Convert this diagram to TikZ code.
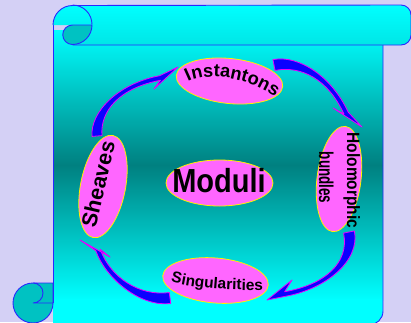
\documentclass[tikz,border=0pt]{standalone}
\usepackage{fontspec}
\setmainfont{Liberation Sans}
\usetikzlibrary{calc,shapes.geometric,decorations.text}
\definecolor{bgl}{RGB}{212,208,245}
\definecolor{scrollcyan}{RGB}{0,255,255}
\definecolor{scrolldark}{RGB}{0,128,128}
\definecolor{curlteal}{RGB}{0,194,194}
\definecolor{barbot}{RGB}{0,230,230}
\definecolor{edgeblue}{RGB}{40,40,255}
\definecolor{pinkfill}{RGB}{255,102,255}
\definecolor{arrowblue}{RGB}{10,0,255}
\definecolor{arrowedge}{RGB}{235,0,255}
\newcommand\bentarrow[8]{%
  \path[arrowsty] ($(#1)!#7!90:(#2)$) .. controls ($(#2)!#7!-90:(#1)$) and ($(#3)!#8!90:(#4)$) .. ($(#4)!#8!-90:(#3)$)
    -- (#5) -- (#6) -- ($(#4)!#8!90:(#3)$) .. controls ($(#3)!#8!-90:(#4)$) and ($(#2)!#7!90:(#1)$) .. ($(#1)!#7!-90:(#2)$) -- cycle;}
\begin{document}
\begin{tikzpicture}[x=1pt,y=-1pt,
  edge/.style={draw=edgeblue,line width=0.9pt},
  ell/.style={ellipse,draw=yellow,line width=0.8pt,fill=pinkfill,inner sep=0pt},
  arrowsty/.style={fill=arrowblue,draw=arrowedge,line width=0.8pt,line join=round},
  lbl/.style={text=black,inner sep=0pt}]
\useasboundingbox[fill=bgl] (0,0) rectangle (411,322);
% scroll body
\begin{scope}
  \clip (53,25) -- (383,25) -- (383,311) arc[start angle=0,end angle=90,radius=14] -- (53,325) -- cycle;
  \shade[top color=scrollcyan,bottom color=scrollcyan,middle color=scrolldark] (53,30) rectangle (383,300);
  \fill[scrollcyan] (53,299) rectangle (383,326);
\end{scope}
\draw[edge] (53,25) -- (53,303);
\draw[edge] (383,45) -- (383,311) arc[start angle=0,end angle=90,radius=14] -- (360,325);
% top bar
\shade[top color=scrollcyan,bottom color=barbot] (53,25) arc[start angle=180,end angle=270,radius=19.5]
  -- (401,5) arc[start angle=270,end angle=360,radius=10] -- (411,35) arc[start angle=0,end angle=90,radius=10]
  -- (72.5,45) -- (72.5,25) -- cycle;
\draw[edge] (53,25) arc[start angle=180,end angle=270,radius=19.5]
  -- (401,5) arc[start angle=270,end angle=360,radius=10] -- (411,35) arc[start angle=0,end angle=90,radius=10]
  -- (72.5,45);
\draw[edge] (72.5,5) arc[start angle=270,end angle=360,radius=19.5];
\filldraw[edge,fill=curlteal] (72.5,25) -- (92,25) arc[start angle=0,end angle=90,radius=19.5]
  arc[start angle=90,end angle=270,radius=9.75] -- cycle;
% bottom-left curl
\filldraw[edge,fill=curlteal] (33,303) circle[radius=20];
\fill[curlteal] (33,283) rectangle (53,303);
\draw[edge] (33,283) -- (53,283) -- (53,303) -- (33,303) arc[start angle=90,end angle=-90,radius=10];
% arrows
\coordinate (a1p0) at (97,136); \coordinate (a1p1) at (95,112); \coordinate (a1p2) at (118,86); \coordinate (a1p3) at (160,78);
\coordinate (a1tip) at (178,67); \coordinate (a1barb) at (154,89);
\coordinate (a2p0) at (274,65); \coordinate (a2p1) at (300,60); \coordinate (a2p2) at (330,78); \coordinate (a2p3) at (346,113);
\coordinate (a2tip) at (362,127); \coordinate (a2barb) at (333,108);
\coordinate (a3p0) at (349,232); \coordinate (a3p1) at (355,262); \coordinate (a3p2) at (325,287); \coordinate (a3p3) at (285,294);
\coordinate (a3tip) at (267,300); \coordinate (a3barb) at (292,280);
\coordinate (a4p0) at (170,298); \coordinate (a4p1) at (140,302); \coordinate (a4p2) at (108,278); \coordinate (a4p3) at (98,250);
\coordinate (a4tip) at (80,240); \coordinate (a4barb) at (110,257);
\bentarrow{a1p0}{a1p1}{a1p2}{a1p3}{a1tip}{a1barb}{5pt}{2.3pt}
\bentarrow{a2p0}{a2p1}{a2p2}{a2p3}{a2tip}{a2barb}{5.5pt}{2.3pt}
\bentarrow{a3p0}{a3p1}{a3p2}{a3p3}{a3tip}{a3barb}{5.5pt}{2.3pt}
\bentarrow{a4p0}{a4p1}{a4p2}{a4p3}{a4tip}{a4barb}{5.5pt}{2.3pt}
% ellipses
\node[ell,minimum width=107pt,minimum height=45pt,rotate=-6] (inst) at (229.5,81) {};
\node[ell,minimum width=44pt,minimum height=106pt,rotate=-7] (holo) at (339,179) {};
\node[ell,minimum width=45pt,minimum height=104pt,rotate=-11] (sheav) at (103,186.5) {};
\node[ell,minimum width=106pt,minimum height=45pt,rotate=-5] (sing) at (215.5,280.5) {};
\node[ell,minimum width=107pt,minimum height=46pt] (mod) at (219.5,183) {};
% labels
\node[lbl,font=\fontsize{29}{32}\bfseries] (modt) at (219,181) {\scalebox{1}[1.15]{Moduli}};
\node[lbl,font=\fontsize{21.5}{24}\bfseries,rotate=77] (sheavt) at (98,184) {Sheaves};
\node[lbl,font=\fontsize{15.5}{18}\bfseries,rotate=-90,anchor=base] (holt) at (347,180.5) {\scalebox{1}[1.15]{Holomorphic}};
\node[lbl,font=\fontsize{20}{22}\bfseries,rotate=-90,anchor=base] (bunt) at (319,177.5) {\scalebox{0.67}[1]{bundles}};
\path[decorate,decoration={text along path,text align=center,text={|\fontsize{18.2}{21}\bfseries|Instantons}}]
  (185,84) .. controls (200,72) and (245,74) .. (278,99);
\path[decorate,decoration={text along path,text align=center,text={|\fontsize{15.5}{18}\bfseries|Singularities}}]
  (168,281) .. controls (190,288) and (230,291) .. (266,290);
\end{tikzpicture}
\end{document}
